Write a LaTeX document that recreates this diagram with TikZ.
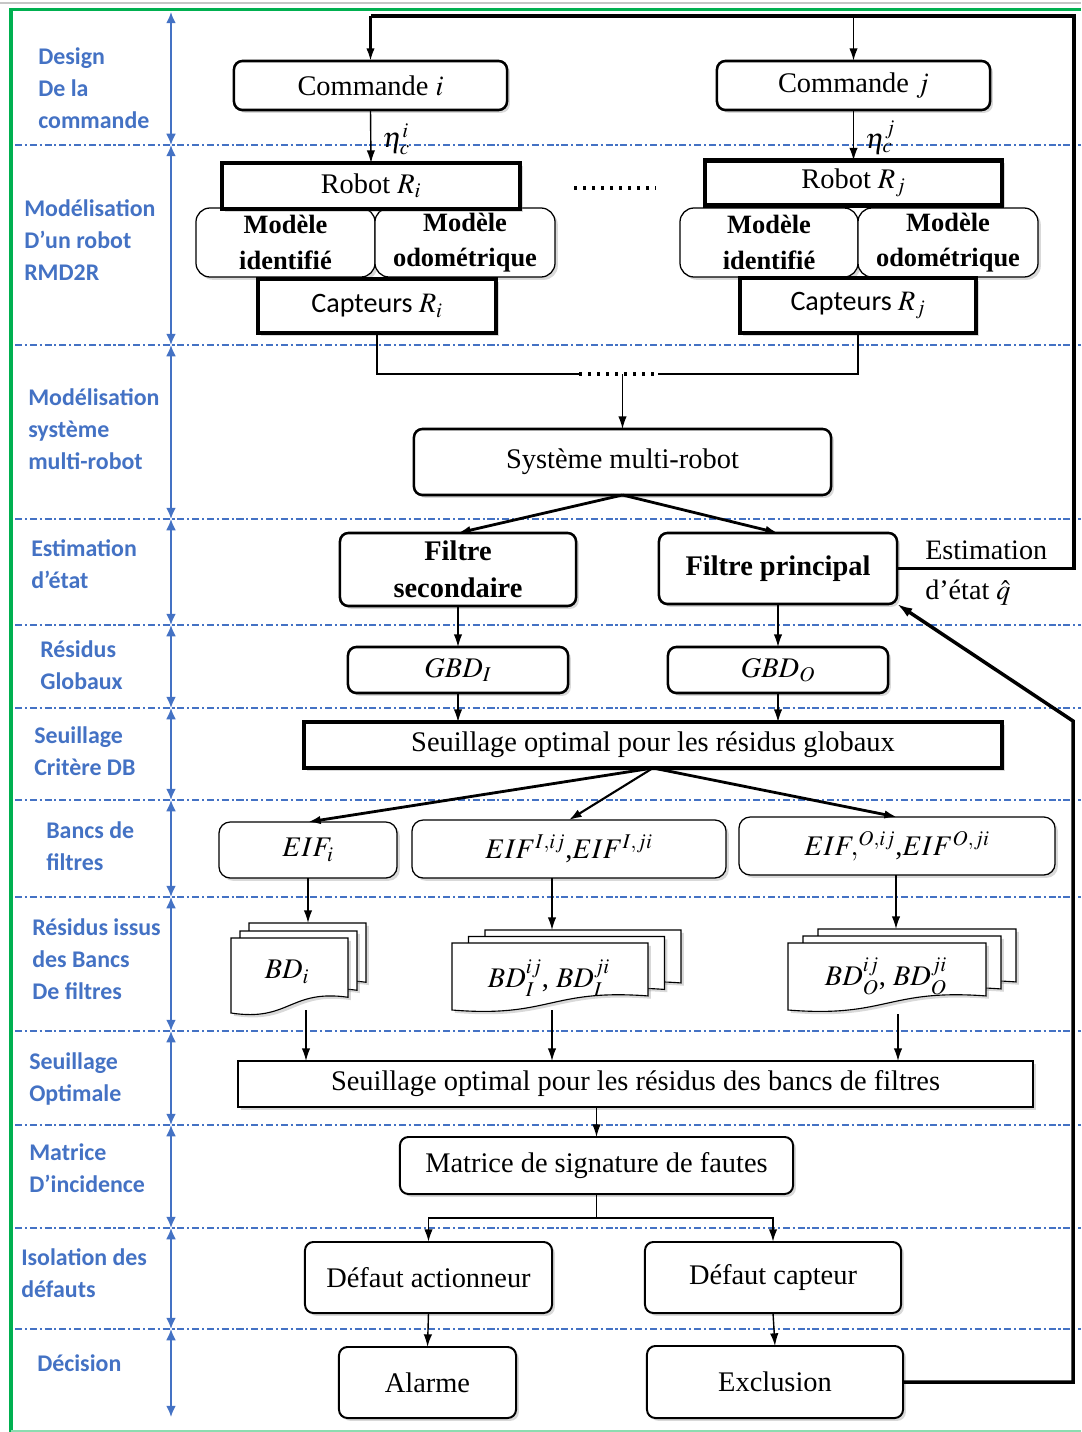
\documentclass[tikz,border=0pt]{standalone}
\usepackage{mathptmx}
\usepackage{fontspec}
\setmainfont{Liberation Serif}
\newfontfamily\sidefont{Carlito}
\usepackage{tikz}
\usetikzlibrary{arrows.meta,shadows}
\definecolor{BandBlue}{RGB}{68,114,196}
\definecolor{FrameGreen}{RGB}{0,176,80}

\newcommand\boxfont{\fontsize{20.2}{26.5}\selectfont}
\newcommand\modfont{\fontsize{18.8}{25}\selectfont\bfseries}
\newcommand\captfont{\sidefont\fontsize{20}{24}\selectfont}
\newcommand\bandfont{\sidefont\bfseries\fontsize{17}{22.8}\selectfont}

% one sheet of a stacked document (x, y, width, height in px)
\newcommand\bdsheet[4]{%
  \draw[pageline] (#1,#2) -- ({#1+#3},#2) -- ({#1+#3},{#2+0.79*#4})
    .. controls ({#1+0.5*#3},{#2+0.68*#4}) and ({#1+0.5*#3},{#2+1.12*#4}) .. (#1,{#2+#4}) -- cycle;}

\tikzset{
  shade/.style={drop shadow={shadow xshift=2pt,shadow yshift=-2pt,opacity=0.3}},
  rbox/.style={draw, fill=white, rounded corners=6pt, line width=1.8pt, inner sep=0pt,
    outer sep=0pt, align=center, font=\boxfont, shade},
  heavybox/.style={rbox, rounded corners=0pt, line width=3.2pt},
  thinbox/.style={rbox, line width=0.9pt, rounded corners=8pt},
  sqbox/.style={rbox, rounded corners=0pt, line width=0.9pt},
  modbox/.style={rbox, line width=0.9pt, rounded corners=10pt, font=\modfont},
  txt/.style={inner sep=0pt, font=\boxfont},
  bandlbl/.style={anchor=west, align=left, inner sep=0pt, text=BandBlue, font=\bandfont},
  pageline/.style={draw, fill=white, line width=0.8pt, shade},
  arr/.style={-{Latex[length=9pt,width=6pt]}, line width=1pt},
  arrthick/.style={arr, line width=2pt},
  fb/.style={line width=2.5pt},
  bandarrow/.style={{Latex[length=8pt,width=7pt]}-{Latex[length=8pt,width=7pt]}, BandBlue, line width=1.3pt},
  bandline/.style={BandBlue, line width=0.8pt, dash pattern=on 5pt off 2pt on 1.5pt off 2pt}
}

\begin{document}
\begin{tikzpicture}[x=0.025cm,y=-0.025cm]
\useasboundingbox (0,0) rectangle (1081,1432);

% bands on the left
\foreach \yy in {145,345,519,625,708,800,897,1031,1125,1228,1329}
  \draw[bandline] (15,\yy) -- (1081,\yy);
\foreach \ya/\yb in {12/145,145/345,345/519,519/625,625/708,708/800,800/897,897/1031,1031/1125,1125/1228,1228/1329,1329/1417}
  \draw[bandarrow] (171,\ya) -- (171,\yb);

\node[bandlbl] (lbldesign) at (38,88.5) {Design\\De la\\commande};
\node[bandlbl] (lblrobot) at (24,240.5) {Modélisation\\D’un robot\\RMD2R};
\node[bandlbl] (lblsys) at (28,429) {Modélisation\\système\\multi-robot};
\node[bandlbl] (lblestim) at (31,564) {Estimation\\d’état};
\node[bandlbl] (lblresg) at (40,665) {Résidus\\Globaux};
\node[bandlbl] (lblseuilg) at (34,751) {Seuillage\\Critère DB};
\node[bandlbl] (lblbancs) at (46,846) {Bancs de\\filtres};
\node[bandlbl] (lblresb) at (32,959) {Résidus issus\\des Bancs\\De filtres};
\node[bandlbl] (lblseuilb) at (29,1079) {Seuillage\\Optimale};
\node[bandlbl] (lblmat) at (29,1168) {Matrice\\D’incidence};
\node[bandlbl] (lbliso) at (21,1273.5) {Isolation des\\défauts};
\node[bandlbl] (lbldec) at (37,1363) {Décision};

% robots
\node[rbox, minimum width=6.825cm, minimum height=1.225cm] (cmdi) at (370.5,85.5) {Commande $i$};
\node[rbox, minimum width=6.825cm, minimum height=1.225cm] (cmdj) at (853.5,85.5) {Commande $j$};
\node[modbox, minimum width=4.475cm, minimum height=1.725cm] (modidi) at (285.5,242.5) {Modèle\\identifié};
\node[modbox, minimum width=4.5cm, minimum height=1.725cm] (mododi) at (465,242.5) {Modèle\\odométrique};
\node[modbox, minimum width=4.45cm, minimum height=1.725cm] (modidj) at (769,242.5) {Modèle\\identifié};
\node[modbox, minimum width=4.5cm, minimum height=1.725cm] (mododj) at (948,242.5) {Modèle\\odométrique};
\node[heavybox, minimum width=7.45cm, minimum height=1.15cm] (roboti) at (371,186) {Robot $R_i$};
\node[heavybox, minimum width=7.425cm, minimum height=1.125cm] (robotj) at (853.5,183) {Robot $R_j$};
\node[heavybox, font=\captfont, minimum width=5.95cm, minimum height=1.35cm] (capti) at (377,306) {Capteurs $R_i$};
\node[heavybox, font=\captfont, minimum width=5.9cm, minimum height=1.375cm] (captj) at (858,305.5) {Capteurs $R_j$};
\draw[line width=2.5pt, dash pattern=on 2.2pt off 4.2pt] (574,188) -- (656,188);

\draw[arr] (cmdi.south) -- node[txt, right=8pt, pos=0.55] {$\eta_c^i$} (roboti.north);
\draw[arr] (cmdj.south) -- node[txt, right=8pt, pos=0.55] {$\eta_c^j$} (robotj.north);

% multi-robot system and filters
\coordinate (dotl) at (579,374);
\coordinate (dotr) at (658,374);
\draw[line width=0.8pt] (capti.south) |- (dotl);
\draw[line width=0.8pt] (captj.south) |- (dotr);
\draw[line width=2.2pt, dash pattern=on 2pt off 4.4pt] (dotl) -- (dotr);

\node[rbox, minimum width=10.425cm, minimum height=1.65cm] (sys) at (622.5,462) {Système multi-robot};
\draw[arr] (sys.north |- dotl) -- (sys.north);

\node[rbox, font=\boxfont\bfseries, minimum width=5.9cm, minimum height=1.825cm] (fsec) at (458,569.5) {Filtre\\secondaire};
\node[rbox, font=\boxfont\bfseries, minimum width=5.95cm, minimum height=1.775cm] (fprinc) at (778,568.5) {Filtre principal};
\node[txt, anchor=west, align=left, font=\fontsize{20}{28}\selectfont] (estim) at (925,573) {Estimation\\d’état $\hat{q}$};
\draw[arrthick] (sys.south) -- (fsec.north);
\draw[arrthick] (sys.south) -- (fprinc.north);

% global residuals
\node[rbox, minimum width=5.5cm, minimum height=1.15cm] (gbdi) at (458,670) {$GBD_I$};
\node[rbox, minimum width=5.5cm, minimum height=1.15cm] (gbdo) at (778,670) {$GBD_O$};
\draw[arr] (fsec.south) -- (gbdi.north);
\draw[arr] (fprinc.south) -- (gbdo.north);

\node[heavybox, minimum width=17.45cm, minimum height=1.15cm] (seuilg) at (653,745) {Seuillage optimal pour les résidus globaux};
\draw[arr] (gbdi.south) -- (gbdi.south |- seuilg.north);
\draw[arr] (gbdo.south) -- (gbdo.south |- seuilg.north);

% filter banks
\node[thinbox, minimum width=4.45cm, minimum height=1.4cm] (eifi) at (308,850) {$EIF_i$};
\node[thinbox, minimum width=7.85cm, minimum height=1.45cm] (eifI) at (569,849) {$EIF^{I,ij}$,$EIF^{I,ji}$};
\node[thinbox, minimum width=7.9cm, minimum height=1.45cm] (eifO) at (897,846) {$EIF,^{O,ij}$,$EIF^{O,ji}$};
\draw[arrthick] (seuilg.south) -- (eifi.north);
\draw[arr, line width=1.5pt] (seuilg.south) -- (eifI.north);
\draw[arrthick] (seuilg.south) -- (eifO.north);

% residuals of the banks
\bdsheet{249}{923}{117}{75}
\bdsheet{240}{931}{117}{75}
\bdsheet{231}{938}{117}{75}
\bdsheet{485}{930}{196}{67}
\bdsheet{468.5}{936.5}{196}{67}
\bdsheet{452}{943}{196}{67}
\bdsheet{818}{929}{198}{67}
\bdsheet{803}{936}{198}{67}
\bdsheet{788}{943}{198}{67}
\node[txt] (bdi) at (287,972) {$BD_i$};
\node[txt] (bdI) at (549,978) {$BD_I^{ij}$, $BD_I^{ji}$};
\node[txt] (bdO) at (886,976) {$BD_O^{ij}$, $BD_O^{ji}$};

\coordinate (bdi-in) at (308,923);
\coordinate (bdi-out) at (306,1010);
\coordinate (bdI-in) at (552,930);
\coordinate (bdI-out) at (552,1010);
\coordinate (bdO-in) at (896,929);
\coordinate (bdO-out) at (898,1014);
\draw[arr] (eifi.south) -- (bdi-in);
\draw[arr] (eifI.south -| bdI-in) -- (bdI-in);
\draw[arr] (eifO.south -| bdO-in) -- (bdO-in);

\node[sqbox, minimum width=19.875cm, minimum height=1.15cm] (seuilb) at (635.5,1084) {Seuillage optimal pour les résidus des bancs de filtres};
\draw[arr] (bdi-out) -- (bdi-out |- seuilb.north);
\draw[arr] (bdI-out) -- (bdI-out |- seuilb.north);
\draw[arr] (bdO-out) -- (bdO-out |- seuilb.north);

% incidence matrix, isolation, decision
\node[rbox, line width=1.4pt, minimum width=9.825cm, minimum height=1.425cm] (mat) at (596.5,1165.5) {Matrice de signature de fautes};
\draw[arr] (mat.north |- seuilb.south) -- (mat.north);

\node[rbox, line width=1.4pt, minimum width=6.175cm, minimum height=1.775cm] (dact) at (428.5,1277.5) {Défaut actionneur};
\node[rbox, line width=1.4pt, minimum width=6.4cm, minimum height=1.775cm] (dcap) at (773,1277.5) {Défaut capteur};
\coordinate (fork) at (596.5,1218);
\draw[line width=1.4pt] (mat.south) -- (fork);
\draw[arr, line width=1.4pt] (fork) -| (dact.north);
\draw[arr, line width=1.4pt] (fork) -| (dcap.north);

\node[rbox, line width=1.4pt, minimum width=4.425cm, minimum height=1.775cm] (alarm) at (427.5,1382.5) {Alarme};
\node[rbox, line width=1.4pt, minimum width=6.4cm, minimum height=1.8cm] (excl) at (775,1382) {Exclusion};
\draw[arr] (dact.south) -- (alarm.north);
\draw[arr] (dcap.south) -- (excl.north);

% feedback loops
\coordinate (rtop) at (1074,16);
\coordinate (rlow) at (1073,721);
\draw[fb] (fprinc.east) -| (rtop) -- (rtop -| cmdi.north);
\draw[arr, line width=1.6pt] (rtop -| cmdi.north) -- (cmdi.north);
\draw[arr, line width=1.4pt] (rtop -| cmdj.north) -- (cmdj.north);
\draw[fb, -{Latex[length=11pt,width=7pt]}] (excl.east) -| (rlow) -- (fprinc.south east);

% frame
\draw[gray!45, line width=1.5pt] (0,3) -- (1081,3);
\draw[FrameGreen, line width=2pt] (9,9.5) -- (1081,9.5);
\draw[FrameGreen, line width=2.8pt] (11,9) -- (11,1432);
\draw[FrameGreen!45, line width=1pt] (11,1431) -- (1081,1431);
\end{tikzpicture}
\end{document}
